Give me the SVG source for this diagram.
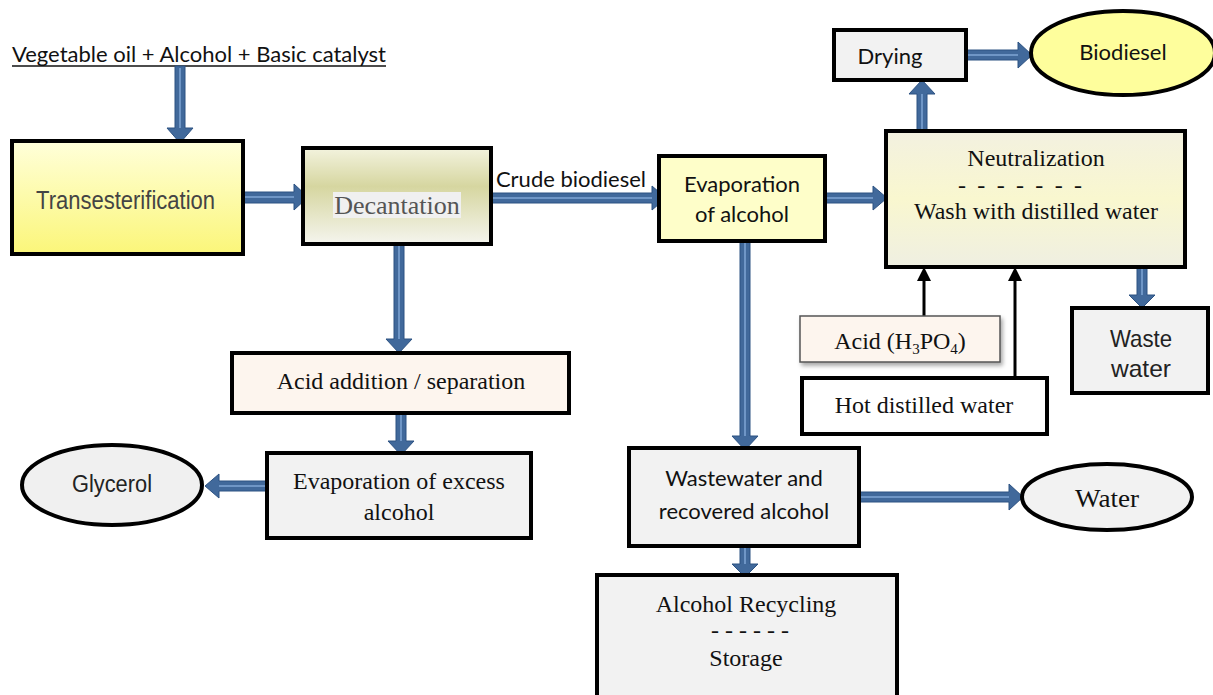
<svg xmlns="http://www.w3.org/2000/svg" width="1213" height="695" viewBox="0 0 1213 695">
<defs>
<linearGradient id="gTrans" x1="0" y1="0" x2="0" y2="1">
<stop offset="0" stop-color="#ffffda"/><stop offset="1" stop-color="#fbf679"/>
</linearGradient>
<linearGradient id="gDec" x1="0" y1="0" x2="0" y2="1">
<stop offset="0" stop-color="#f3f3de"/><stop offset="0.4" stop-color="#d6d6a0"/><stop offset="1" stop-color="#f5f5ee"/>
</linearGradient>
<linearGradient id="gNeu" x1="0" y1="0" x2="0" y2="1">
<stop offset="0" stop-color="#f3f1e0"/><stop offset="0.5" stop-color="#f9f7cf"/><stop offset="1" stop-color="#efefe2"/>
</linearGradient>
<filter id="sh" x="-10%" y="-20%" width="130%" height="160%">
<feDropShadow dx="2" dy="3" stdDeviation="2" flood-color="#000" flood-opacity="0.35"/>
</filter>
</defs>
<style>
.box{stroke:#000;stroke-width:4}
.grey{fill:#f2f2f2}
.arr{fill:#41699b;stroke:#2c5282;stroke-width:1}
.hl{stroke:#6f96c6;stroke-width:2;fill:none}
.cal{font-family:Lato,"Open Sans","Liberation Sans",sans-serif;fill:#111}
.ser{font-family:"Liberation Serif","Times New Roman",serif;fill:#111}
.ari{font-family:"Liberation Sans",Arial,sans-serif;fill:#222}
.thin{stroke:#000;stroke-width:3;fill:none}
</style>
<rect width="1213" height="695" fill="#fff"/>

<g id="title">
<text x="12" y="62" class="cal" font-size="21" textLength="374" lengthAdjust="spacingAndGlyphs">Vegetable oil + Alcohol + Basic catalyst</text>
<line x1="12" y1="66" x2="386" y2="66" stroke="#111" stroke-width="1.5"/>
</g>

<g id="connectors">
<path class="arr" d="M175,66 V128 H167 L180,143 L193,128 H185 V66 Z"/><line class="hl" x1="180" y1="68" x2="180" y2="128"/>
<path class="arr" d="M243,192 V203 H294 V210 L308,197 L294,184 V192 Z"/><line class="hl" x1="245" y1="197" x2="294" y2="197"/>
<path class="arr" d="M491,193 V203 H652 V210 L666,198 L652,186 V193 Z"/><line class="hl" x1="493" y1="198" x2="652" y2="198"/>
<path class="arr" d="M825,193 V203 H873 V210 L887,198 L873,186 V193 Z"/><line class="hl" x1="827" y1="198" x2="873" y2="198"/>
<path class="arr" d="M917,131 V94 H909 L922,80 L935,94 H927 V131 Z"/><line class="hl" x1="922" y1="129" x2="922" y2="94"/>
<path class="arr" d="M966,50 V60 H1018 V68 L1032,55 L1018,42 V50 Z"/><line class="hl" x1="968" y1="55" x2="1018" y2="55"/>
<path class="arr" d="M1137,267 V295 H1129 L1142,308 L1155,295 H1147 V267 Z"/><line class="hl" x1="1142" y1="269" x2="1142" y2="295"/>
<line class="thin" x1="924" y1="316" x2="924" y2="279"/><path d="M917,281 L924,267 L931,281 Z" fill="#000"/>
<line class="thin" x1="1015" y1="378" x2="1015" y2="279"/><path d="M1008,281 L1015,267 L1022,281 Z" fill="#000"/>
<path class="arr" d="M394,244 V339 H386 L399,353 L412,339 H404 V244 Z"/><line class="hl" x1="399" y1="246" x2="399" y2="339"/>
<path class="arr" d="M396,413 V441 H388 L401,455 L414,441 H406 V413 Z"/><line class="hl" x1="401" y1="415" x2="401" y2="441"/>
<path class="arr" d="M267,481 V491 H219 V498 L205,486 L219,474 V481 Z"/><line class="hl" x1="265" y1="486" x2="219" y2="486"/>
<path class="arr" d="M740,241 V436 H732 L745,450 L758,436 H750 V241 Z"/><line class="hl" x1="745" y1="243" x2="745" y2="436"/>
<path class="arr" d="M859,492 V502 H1009 V510 L1023,497 L1009,484 V492 Z"/><line class="hl" x1="861" y1="497" x2="1009" y2="497"/>
<path class="arr" d="M740,546 V564 H732 L745,577 L758,564 H750 V546 Z"/><line class="hl" x1="745" y1="548" x2="745" y2="564"/>
</g>

<g id="transesterification">
<rect class="box" x="12" y="141" width="231" height="113" fill="url(#gTrans)"/>
<text x="36" y="209" class="ari" font-size="26" style="fill:#444" textLength="179" lengthAdjust="spacingAndGlyphs">Transesterification</text>
</g>

<g id="decantation">
<rect class="box" x="303" y="148" width="188" height="96" fill="url(#gDec)"/>
<rect x="333" y="192" width="128" height="26" fill="#f0f0f0"/>
<text x="397" y="214" class="ser" font-size="26" style="fill:#555" text-anchor="middle">Decantation</text>
</g>

<g id="crude-label">
<text x="496" y="187" class="cal" font-size="21" textLength="150" lengthAdjust="spacingAndGlyphs">Crude biodiesel</text>
</g>

<g id="evaporation-alcohol">
<rect class="box" x="659" y="156" width="166" height="85" fill="#fefec9"/>
<text x="742" y="192" class="cal" font-size="22" text-anchor="middle">Evaporation</text>
<text x="742" y="222" class="cal" font-size="22" text-anchor="middle">of alcohol</text>
</g>

<g id="neutralization">
<rect class="box" x="886" y="131" width="299" height="136" fill="url(#gNeu)"/>
<text x="1036" y="166" class="ser" font-size="24" text-anchor="middle">Neutralization</text>
<text x="958" y="193" class="ser" font-size="24" textLength="124" lengthAdjust="spacing">- - - - - - -</text>
<text x="1036" y="219" class="ser" font-size="24" text-anchor="middle">Wash with distilled water</text>
</g>

<g id="drying">
<rect class="box grey" x="834" y="30" width="132" height="50"/>
<text x="890" y="64" class="cal" font-size="22" text-anchor="middle">Drying</text>
</g>

<g id="biodiesel">
<ellipse cx="1123" cy="53" rx="92" ry="42" fill="#fefe9c" stroke="#000" stroke-width="4"/>
<text x="1123" y="60" class="cal" font-size="22" text-anchor="middle">Biodiesel</text>
</g>

<g id="acid">
<rect x="800" y="316" width="200" height="46" fill="#fdf5ee" stroke="#555" stroke-width="1.5" filter="url(#sh)"/>
<text x="900" y="349" class="ser" font-size="24" text-anchor="middle">Acid (H<tspan font-size="15" dy="5">3</tspan><tspan dy="-5">PO</tspan><tspan font-size="15" dy="5">4</tspan><tspan dy="-5">)</tspan></text>
</g>

<g id="hot-water">
<rect class="box" x="802" y="378" width="245" height="56" fill="#fff"/>
<text x="924" y="413" class="ser" font-size="24" text-anchor="middle">Hot distilled water</text>
</g>

<g id="waste-water">
<rect class="box grey" x="1072" y="308" width="136" height="85"/>
<text x="1141" y="347" class="ari" font-size="24" text-anchor="middle" textLength="62" lengthAdjust="spacingAndGlyphs">Waste</text>
<text x="1141" y="377" class="ari" font-size="24" text-anchor="middle" textLength="60" lengthAdjust="spacingAndGlyphs">water</text>
</g>

<g id="acid-addition">
<rect class="box" x="232" y="353" width="337" height="60" fill="#fdf5ee"/>
<text x="401" y="389" class="ser" font-size="24" text-anchor="middle">Acid addition / separation</text>
</g>

<g id="evaporation-excess">
<rect class="box grey" x="267" y="453" width="264" height="85"/>
<text x="399" y="489" class="ser" font-size="24" text-anchor="middle">Evaporation of excess</text>
<text x="399" y="520" class="ser" font-size="24" text-anchor="middle">alcohol</text>
</g>

<g id="glycerol">
<ellipse cx="112" cy="485" rx="90" ry="40" fill="#f0f0f0" stroke="#000" stroke-width="4"/>
<text x="112" y="492" class="ari" font-size="23" text-anchor="middle" textLength="80" lengthAdjust="spacingAndGlyphs">Glycerol</text>
</g>

<g id="wastewater-recovered">
<rect class="box grey" x="629" y="448" width="230" height="98"/>
<text x="744" y="486" class="cal" font-size="22" text-anchor="middle">Wastewater and</text>
<text x="744" y="519" class="cal" font-size="22" text-anchor="middle">recovered alcohol</text>
</g>

<g id="water">
<ellipse cx="1107" cy="497" rx="85" ry="33" fill="#f2f2f2" stroke="#000" stroke-width="4"/>
<text x="1107" y="507" class="ser" font-size="25" text-anchor="middle" textLength="64" lengthAdjust="spacingAndGlyphs">Water</text>
</g>

<g id="alcohol-recycling">
<rect class="box grey" x="597" y="575" width="300" height="130"/>
<text x="746" y="612" class="ser" font-size="24" text-anchor="middle">Alcohol Recycling</text>
<text x="711" y="638" class="ser" font-size="24" textLength="78" lengthAdjust="spacing">- - - - - -</text>
<text x="746" y="666" class="ser" font-size="24" text-anchor="middle">Storage</text>
</g>
</svg>
